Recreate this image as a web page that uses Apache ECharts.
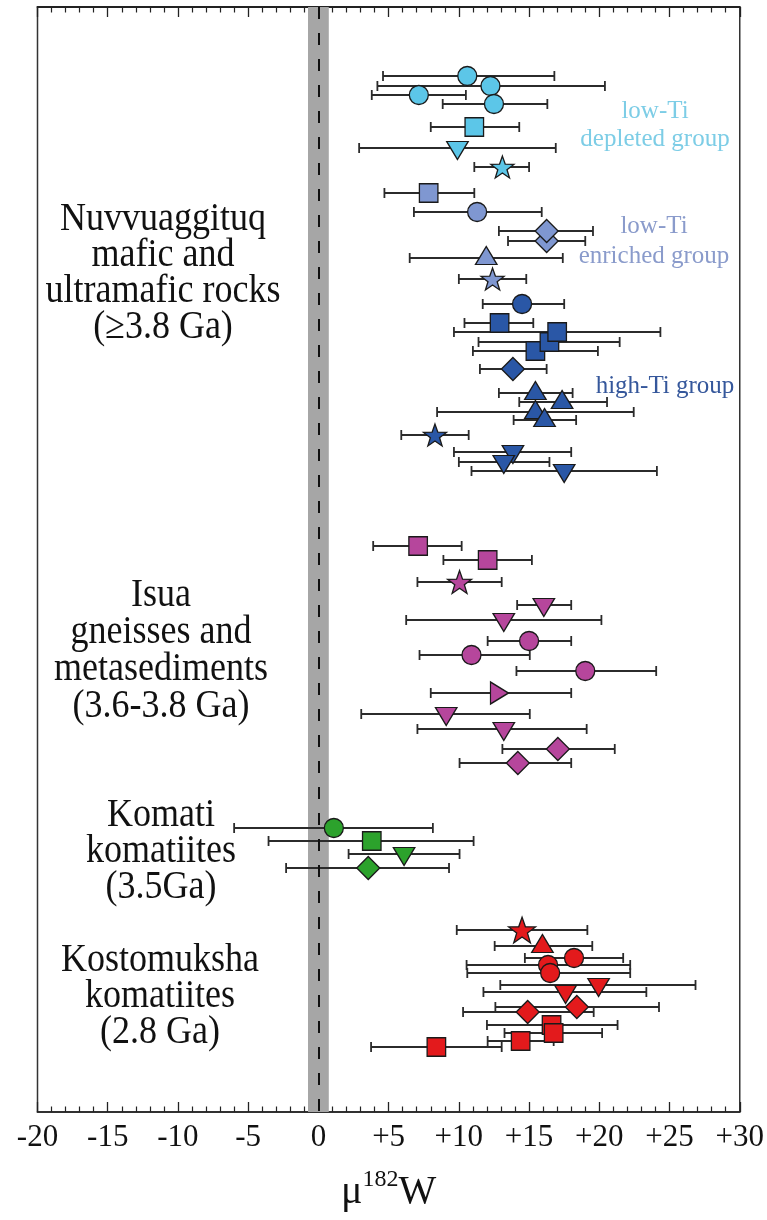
<!DOCTYPE html>
<html>
<head>
<meta charset="utf-8">
<script src="https://cdn.jsdelivr.net/npm/echarts@6/dist/echarts.min.js"></script>
<style>html,body{margin:0;padding:0;background:#fff}#c{width:767px;height:1220px}</style>
</head>
<body>
<div id="c"></div>
<script>
// Each row: [mu182W value, error low, error high, row position (top->bottom), shape]
// shapes: c circle, s square, u up-triangle, d down-triangle, r right-triangle, t star, m diamond
var lowTiDepleted = [
  [10.6, 4.6, 16.8, 76, 'c'],
  [12.25, 4.2, 20.4, 86, 'c'],
  [7.15, 3.8, 10.5, 95, 'c'],
  [12.5, 8.85, 16.3, 104, 'c'],
  [11.1, 8.0, 14.3, 127, 's'],
  [9.9, 2.9, 16.9, 148, 'd'],
  [13.1, 11.1, 15.0, 167, 't']
];
var lowTiEnriched = [
  [7.85, 4.7, 11.1, 193, 's'],
  [11.3, 6.8, 15.9, 212, 'c'],
  [16.25, 13.5, 19.0, 241, 'm'],
  [16.25, 12.85, 19.55, 231, 'm'],
  [11.95, 6.5, 17.4, 258, 'u'],
  [12.4, 10.0, 14.8, 279, 't']
];
var highTi = [
  [14.5, 11.7, 17.5, 304, 'c'],
  [12.9, 10.4, 15.3, 323, 's'],
  [15.45, 11.0, 19.9, 351, 's'],
  [16.45, 11.4, 21.45, 342, 's'],
  [17.0, 9.65, 24.35, 332, 's'],
  [13.85, 11.5, 16.25, 369, 'm'],
  [15.45, 12.85, 18.1, 393, 'u'],
  [17.35, 14.3, 20.55, 402, 'u'],
  [15.45, 8.45, 22.45, 412, 'u'],
  [16.1, 13.9, 18.35, 420, 'u'],
  [8.3, 5.9, 10.7, 435, 't'],
  [13.85, 9.65, 18.0, 452, 'd'],
  [13.2, 10.0, 16.45, 462, 'd'],
  [17.5, 10.9, 24.1, 471, 'd']
];
var isua = [
  [7.1, 3.9, 10.2, 546, 's'],
  [12.05, 8.9, 15.2, 560, 's'],
  [10.05, 7.05, 13.05, 582, 't'],
  [16.05, 14.15, 18.0, 605, 'd'],
  [13.2, 6.25, 20.15, 620, 'd'],
  [15.0, 12.05, 18.0, 641, 'c'],
  [10.9, 7.2, 15.05, 655, 'c'],
  [19.0, 14.1, 24.05, 671, 'c'],
  [12.75, 8.0, 18.0, 693, 'r'],
  [9.1, 3.05, 15.05, 714, 'd'],
  [13.2, 7.05, 19.1, 729, 'd'],
  [17.05, 13.1, 21.1, 749, 'm'],
  [14.2, 10.05, 18.0, 763, 'm']
];
var komati = [
  [1.1, -6.0, 8.15, 828, 'c'],
  [3.8, -3.55, 11.05, 841, 's'],
  [6.1, 2.15, 10.05, 854, 'd'],
  [3.55, -2.3, 9.3, 868, 'm']
];
var kostomuksha = [
  [14.5, 9.85, 19.15, 930, 't'],
  [15.95, 12.55, 19.5, 946, 'u'],
  [18.2, 14.7, 21.7, 958, 'c'],
  [16.35, 10.55, 22.2, 965, 'c'],
  [16.5, 10.6, 22.2, 973, 'c'],
  [19.95, 12.95, 26.85, 985, 'd'],
  [17.6, 11.75, 23.35, 992, 'd'],
  [18.4, 12.6, 24.25, 1007, 'm'],
  [14.9, 10.3, 19.6, 1012, 'm'],
  [14.4, 12.05, 16.75, 1041, 's'],
  [16.6, 12.0, 21.3, 1025, 's'],
  [16.75, 13.25, 20.2, 1033, 's'],
  [8.4, 3.75, 13.05, 1047, 's']
];
var xTickLabels = {'-20':'-20','-15':'-15','-10':'-10','-5':'-5','0':'0','5':'+5','10':'+10','15':'+15','20':'+20','25':'+25','30':'+30'};
var xMin = -20, xMax = 30, xInterval = 5;
var referenceBand = [-0.74, 0.74];

var groups = [
  {name:'low-Ti depleted', data: lowTiDepleted, color:'#5cc6e8', star:23},
  {name:'low-Ti enriched', data: lowTiEnriched, color:'#7f97d1', star:23},
  {name:'high-Ti', data: highTi, color:'#2a57a6', star:23},
  {name:'Isua', data: isua, color:'#b6469c', star:24},
  {name:'Komati', data: komati, color:'#2ca22c', star:23},
  {name:'Kostomuksha', data: kostomuksha, color:'#e31a1c', star:27}
];

var STAR = 'path://M50,0 L61.8,33.8 L97.6,34.5 L69,56.2 L79.4,90.5 L50,70 L20.6,90.5 L31,56.2 L2.4,34.5 L38.2,33.8 Z';
function symbolFor(shape, g) {
  switch (shape) {
    case 'c': return {symbol:'circle', symbolSize:19};
    case 's': return {symbol:'rect', symbolSize:18.5};
    case 'u': return {symbol:'triangle', symbolSize:[21.5,18], symbolOffset:[0,-2.5]};
    case 'd': return {symbol:'triangle', symbolSize:[21.5,18], symbolRotate:180, symbolOffset:[0,2.5]};
    case 'r': return {symbol:'triangle', symbolSize:[22,18], symbolRotate:-90, symbolOffset:[2,0]};
    case 't': return {symbol:STAR, symbolSize:[g.star, g.star*0.95]};
    case 'm': return {symbol:'diamond', symbolSize:[23,23]};
  }
}

var FONT = '"Liberation Serif","Times New Roman",serif';
var series = [];
groups.forEach(function (g, gi) {
  series.push({
    type:'custom', name:g.name + ' error', z:2, silent:true,
    data: g.data.map(function (r) { return [r[0], r[1], r[2], r[3]]; }),
    encode: {x:[0,1,2], y:3},
    renderItem: function (params, api) {
      var y = api.value(3);
      var a = api.coord([api.value(1), y]);
      var b = api.coord([api.value(2), y]);
      var h = 5;
      var st = {stroke:'#2b2b2b', lineWidth:1.8};
      return {type:'group', children:[
        {type:'line', shape:{x1:a[0], y1:a[1], x2:b[0], y2:b[1]}, style:st},
        {type:'line', shape:{x1:a[0], y1:a[1]-h, x2:a[0], y2:a[1]+h}, style:st},
        {type:'line', shape:{x1:b[0], y1:b[1]-h, x2:b[0], y2:b[1]+h}, style:st}
      ]};
    }
  });
});
groups.forEach(function (g) {
  series.push({
    type:'scatter', name:g.name, z:5,
    itemStyle:{color:g.color, borderColor:'#1a1a1a', borderWidth:1.3, opacity:1},
    data: g.data.map(function (r) {
      var o = symbolFor(r[4], g);
      o.value = [r[0], r[3]];
      return o;
    })
  });
});
// reference band and dashed zero line
series.push({
  type:'line', data:[], z:1, silent:true,
  markArea:{silent:true, itemStyle:{color:'#a6a6a6'}, data:[[{xAxis:referenceBand[0]},{xAxis:referenceBand[1]}]]},
  markLine:{silent:true, symbol:'none', label:{show:false},
    lineStyle:{color:'#111', type:[12,14], width:2}, data:[{xAxis:0}]}
});

var chart = echarts.init(document.getElementById('c'), null, {renderer:'canvas'});
chart.setOption({
  animation:false,
  grid:{left:37.5, right:26, top:7, bottom:108, show:true, borderColor:'#333', borderWidth:1.5, backgroundColor:'transparent'},
  xAxis:[{
    type:'value', min:xMin, max:xMax, interval:xInterval, position:'bottom',
    axisLine:{show:true, lineStyle:{color:'#222', width:1.6}},
    axisTick:{show:true, inside:true, length:10, lineStyle:{color:'#222', width:1.3}},
    minorTick:{show:true, splitNumber:5, length:5.5, lineStyle:{color:'#222', width:1.2}},
    splitLine:{show:false},
    axisLabel:{margin:10, color:'#111', fontSize:31, fontFamily:FONT,
      formatter:function (v) { return xTickLabels[String(v)]; }},
    name:'{a|μ}{b|182}{a|W}', nameLocation:'middle', nameGap:56,
    nameTextStyle:{color:'#111', fontFamily:FONT, rich:{
      a:{fontSize:40, fontFamily:FONT, color:'#111', lineHeight:44, verticalAlign:'bottom'},
      b:{fontSize:24, fontFamily:FONT, color:'#111', lineHeight:24, verticalAlign:'top'}
    }}
  },{
    type:'value', min:xMin, max:xMax, interval:xInterval, position:'top',
    axisLine:{show:true, lineStyle:{color:'#222', width:1.8}},
    axisTick:{show:true, inside:true, length:10, lineStyle:{color:'#222', width:1.3}},
    minorTick:{show:true, splitNumber:5, length:5.5, lineStyle:{color:'#222', width:1.2}},
    splitLine:{show:false}, axisLabel:{show:false}
  }],
  yAxis:{type:'value', min:7, max:1112, inverse:true, show:false, splitLine:{show:false}},
  graphic:[
    {type:'text', x:163, y:273, scaleX:0.9, style:{text:'Nuvvuaggituq\nmafic and\nultramafic rocks\n(≥3.8 Ga)', font:'40px '+FONT, lineHeight:36, fill:'#111', align:'center', verticalAlign:'middle'}},
    {type:'text', x:161, y:651, scaleX:0.9, style:{text:'Isua\ngneisses and\nmetasediments\n(3.6-3.8 Ga)', font:'40px '+FONT, lineHeight:37, fill:'#111', align:'center', verticalAlign:'middle'}},
    {type:'text', x:161, y:851, scaleX:0.9, style:{text:'Komati\nkomatiites\n(3.5Ga)', font:'40px '+FONT, lineHeight:36, fill:'#111', align:'center', verticalAlign:'middle'}},
    {type:'text', x:160, y:996, scaleX:0.9, style:{text:'Kostomuksha\nkomatiites\n(2.8 Ga)', font:'40px '+FONT, lineHeight:36, fill:'#111', align:'center', verticalAlign:'middle'}},
    {type:'text', x:655, y:125, style:{text:'low-Ti\ndepleted group', font:'25px '+FONT, lineHeight:28, fill:'#7dcde6', align:'center', verticalAlign:'middle'}},
    {type:'text', x:654, y:241, style:{text:'low-Ti\nenriched group', font:'25px '+FONT, lineHeight:30, fill:'#8a9bcb', align:'center', verticalAlign:'middle'}},
    {type:'text', x:665, y:386, style:{text:'high-Ti group', font:'25px '+FONT, fill:'#35579b', align:'center', verticalAlign:'middle'}}
  ],
  series: series
});
</script>
</body>
</html>
